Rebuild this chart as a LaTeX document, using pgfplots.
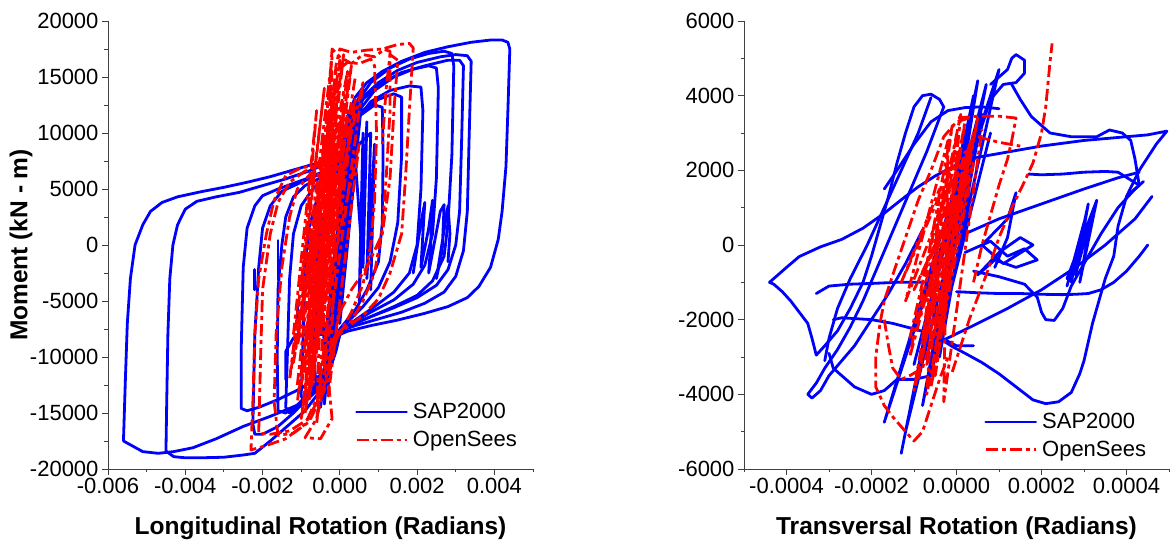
\documentclass[border=0pt]{standalone}
\usepackage{fontspec}
\setmainfont{Liberation Sans}
\usepackage{pgfplots}
\pgfplotsset{compat=1.18}
\definecolor{sapblue}{RGB}{0,0,255}
\definecolor{osred}{RGB}{255,0,0}
\tikzset{
  sap/.style={color=sapblue, line width=2.8pt, line join=round, line cap=round},
  os/.style={color=osred, line width=2.8pt, line join=round, dash pattern=on 12pt off 4pt on 4pt off 4pt},
}
\pgfplotsset{
  myaxis/.style={
    scale only axis, width=425pt, height=448pt,
    axis x line*=bottom, axis y line*=left,
    axis line style={-, line width=0.9pt, black!75},
    tick style={line width=0.9pt, black!75},
    tick align=outside, major tick length=6pt, minor tick length=3.5pt,
    minor y tick num=1,
    ticklabel style={font=\fontsize{22}{26}\selectfont},
    /pgf/number format/assume math mode=true,
    scaled ticks=false,
    label style={font=\fontsize{24.5}{29}\selectfont\bfseries},
    xlabel style={at={(axis description cs:0.5,-0.1317)},anchor=center},
    legend style={draw=none, fill=none, font=\fontsize{22}{26}\selectfont,
      anchor=west, row sep=7pt, /tikz/every odd column/.style={column sep=3pt}},
    legend cell align=left,
    legend image code/.code={\draw[##1, line width=2.8pt] (0pt,0pt) -- (50pt,0pt);},
  },
}
\begin{document}
\begin{tikzpicture}[x=1pt,y=1pt]
\useasboundingbox (0,0) rectangle (1173,548);
%==================== LEFT ====================
\begin{axis}[myaxis, at={(108pt,79pt)}, anchor=south west,
  xmin=-0.006, xmax=0.005, ymin=-20000, ymax=20000,
  xtick={-0.006,-0.004,-0.002,0,0.002,0.004},
  minor xtick={-0.005,-0.003,-0.001,0.001,0.003,0.005},
  ytick={-20000,-15000,-10000,-5000,0,5000,10000,15000,20000},
  xticklabel style={/pgf/number format/.cd, fixed, fixed zerofill, precision=3},
  yticklabel style={/pgf/number format/.cd, fixed, 1000 sep={}},
  xlabel={Longitudinal Rotation (Radians)},
  ylabel={Moment (kN - m)},
  ylabel style={at={(axis description cs:-0.2047,0.5)},anchor=center},
  legend style={at={(axis description cs:0.574,0.096)}},
]
% ---- SAP2000 ----
\addplot[sap] coordinates {
(-0.0056,-17500)(-0.00555,-12000)(-0.0055,-7000)(-0.00542,-3000)(-0.0053,0)(-0.0051,1800)(-0.0049,3000)(-0.0046,3800)(-0.0042,4300)(-0.0036,4750)(-0.003,5150)(-0.0024,5600)(-0.0018,6100)(-0.0012,6700)(-0.0006,7300)(-0.0002,7800)(0.0,8000)(0.0001,9500)(0.0002,11500)(0.0004,13200)(0.0007,14500)(0.0011,15500)(0.0016,16400)(0.0022,17200)(0.0028,17700)(0.0034,18100)(0.0039,18300)(0.0042,18300)(0.00435,18100)(0.0044,17500)(0.00435,12000)(0.0043,7000)(0.0042,3000)(0.0041,500)(0.0039,-2000)(0.0036,-3700)(0.0033,-4700)(0.0028,-5500)(0.0022,-6100)(0.0015,-6700)(0.0008,-7200)(0.0002,-7700)(0.0,-8000)(-0.0001,-9500)(-0.0003,-11500)(-0.0006,-13000)(-0.0011,-14300)(-0.0018,-15300)(-0.0025,-16200)(-0.0032,-17300)(-0.0038,-18100)(-0.0043,-18450)(-0.0047,-18600)(-0.0051,-18450)(-0.0056,-17500)
};
\addlegendentry{SAP2000}
\addplot[sap, forget plot] coordinates {
(0,-8000)(-0.0002,-10500)(-0.0005,-13000)(-0.0009,-14800)(-0.0013,-16000)(-0.0018,-17500)(-0.0022,-18600)(-0.0025,-18750)(-0.003,-18950)(-0.0036,-19000)(-0.004,-19000)(-0.0043,-18900)(-0.0045,-18400)(-0.00448,-14000)(-0.00445,-8000)(-0.0044,-3000)(-0.00432,0)(-0.0042,1800)(-0.004,3200)(-0.0037,3900)(-0.0032,4300)(-0.0026,4700)(-0.002,5300)(-0.0014,5900)(-0.0008,6600)(-0.0003,7300)(0.0,7700)(0.0001,9000)(0.0003,11500)(0.0006,13200)(0.001,14500)(0.0015,15600)(0.002,16300)(0.0026,16800)(0.003,17000)(0.0033,16900)(0.0034,16400)(0.00335,10000)(0.0033,3000)(0.0032,-500)(0.003,-2800)(0.0027,-4200)(0.0022,-5200)(0.0016,-6000)(0.001,-6600)(0.0004,-7200)(0,-7700)
};
\addplot[sap, forget plot] coordinates {
(0,-7800)(-0.0002,-9800)(-0.0005,-11600)(-0.001,-12800)(-0.0016,-13800)(-0.0021,-14500)(-0.0024,-14800)(-0.00255,-14600)(-0.00255,-9000)(-0.0025,-2000)(-0.0024,1500)(-0.0022,3500)(-0.002,4400)(-0.0016,5000)(-0.0012,5500)(-0.0008,6000)(-0.0004,6600)(-0.0001,7200)(0.0001,8500)(0.0003,11000)(0.0006,13000)(0.001,14300)(0.0016,15400)(0.0022,16000)(0.0028,16500)(0.0031,16500)(0.0032,16000)(0.00315,9000)(0.0031,3000)(0.003,0)(0.0028,-2200)(0.0025,-3600)(0.002,-4700)(0.0014,-5600)(0.0008,-6400)(0.0003,-7100)(0,-7800)
};
\addplot[sap, forget plot] coordinates {
(0,-8000)(-0.0003,-11000)(-0.0007,-13200)(-0.0012,-15000)(-0.0016,-16200)(-0.002,-16900)(-0.0022,-16900)(-0.00225,-16000)(-0.0022,-8000)(-0.0021,-2000)(-0.002,1500)(-0.0018,3500)(-0.0015,4800)(-0.001,5600)(-0.0006,6200)(-0.0002,7000)(0,7500)(0.0002,10000)(0.0004,12500)(0.0008,14500)(0.0013,15800)(0.0018,16600)(0.0023,17100)(0.0027,17300)(0.0029,17100)(0.00295,16000)(0.0029,8000)(0.0028,2000)(0.0027,-1000)(0.0024,-3200)(0.002,-4500)(0.0014,-5500)(0.0008,-6400)(0.0002,-7300)(0,-8000)
};
\addplot[sap, forget plot] coordinates {
(0,-7800)(-0.0003,-10500)(-0.0007,-12800)(-0.0011,-14300)(-0.0014,-15000)(-0.0016,-14800)(-0.00162,-10000)(-0.0016,-4000)(-0.0015,0)(-0.0014,2500)(-0.0012,4300)(-0.0009,5300)(-0.0005,6000)(-0.0002,6700)(0,7300)(0.0002,9500)(0.0005,12000)(0.0009,13800)(0.0014,15000)(0.0019,15700)(0.0023,16000)(0.0025,15800)(0.00255,14000)(0.0025,6000)(0.0024,1000)(0.0022,-1800)(0.0019,-3500)(0.0014,-4900)(0.0008,-6000)(0.0003,-7000)(0,-7800)
};
\addplot[sap, forget plot] coordinates {
(0,-7800)(-0.0003,-10500)(-0.0006,-12500)(-0.001,-14300)(-0.0013,-15000)(-0.0014,-14500)(-0.00135,-9000)(-0.0013,-3000)(-0.0012,1000)(-0.001,3500)(-0.0007,5000)(-0.0004,6000)(-0.0001,6800)(0.0001,8500)(0.0004,11000)(0.0008,12800)(0.0013,13800)(0.0018,14200)(0.0021,14100)(0.00215,12000)(0.0021,5000)(0.002,0)(0.0018,-2500)(0.0014,-4200)(0.0009,-5500)(0.0004,-6700)(0,-7800)
};
\addplot[sap, forget plot] coordinates {
(0,-7700)(-0.0003,-10800)(-0.0006,-13000)(-0.0009,-14000)(-0.001,-13500)(-0.00095,-8000)(-0.0009,-2000)(-0.0008,1500)(-0.0006,4000)(-0.0003,5800)(0,7000)(0.0002,9500)(0.0005,11800)(0.001,13000)(0.0014,13500)(0.0016,13200)(0.0016,8000)(0.0015,2000)(0.0013,-1500)(0.001,-3800)(0.0006,-5500)(0.0002,-6900)(0,-7700)
};
\addplot[sap, forget plot] coordinates {
(0,-7500)(-0.0003,-11000)(-0.0006,-13000)(-0.00065,-11000)(-0.0006,-4000)(-0.0005,1000)(-0.0003,4500)(0,6800)(0.0002,9000)(0.0005,11500)(0.0009,12500)(0.0011,12300)(0.00112,8000)(0.0011,2000)(0.001,-1500)(0.0007,-4000)(0.0004,-5800)(0,-7500)
};
\addplot[sap, forget plot] coordinates {
(-0.0014,-12000)(-0.0014,-9500)(-0.0012,-8300)(-0.0009,-8000)(-0.0005,-8000)(0,-7900)
};
\addplot[sap, forget plot] coordinates {
(0.0019,-2500)(0.0021,2000)(0.0022,3800)(0.00215,1000)(0.0021,-2000)(0.0023,1500)(0.0024,4000)(0.00235,0)(0.0023,-2500)(0.0026,3000)(0.0027,3600)(0.00265,-500)(0.0025,-3000)(0.0028,3500)(0.00285,1000)(0.0028,-1500)
};
\addplot[sap, forget plot] coordinates {(-0.0022,-2200)(-0.0022,-4000)};
\addplot[sap, forget plot] coordinates {(-0.0011,-5200)(-0.0011,-7000)};
\addplot[sap, forget plot] coordinates {(-0.0016,400)(-0.0016,-3100)};
\addplot[sap, forget plot] coordinates {
(-0.0004,-13800)(0.0001,6000)(-0.0002,-9000)(0.0004,12000)(-0.0001,-5000)(0.0005,13500)(-0.0003,-12500)(0.0002,9000)(0.0,-7000)(0.0006,14000)(-0.0002,-10500)(0.0003,10500)(-0.0004,-14200)(0.0001,7000)(-0.0001,-6000)(0.0004,13000)(-0.0003,-11500)(0.0005,12000)(-0.0005,-14500)(0.0002,8000)(0.0008,10000)(0.0007,-3000)(0.0009,9000)(0.0008,-4000)
};
\addplot[sap, forget plot] coordinates {
(-0.0007,-12000)(-0.0006,2000)(-0.0004,-9000)(0.0003,12500)(0.0006,-2000)(0.0007,11000)(0.0005,-5000)(0.0006,10000)
};
% ---- OpenSees ----
\addplot[os] coordinates {
(-0.0002,-8500)(-0.0005,-13000)(-0.0009,-16000)(-0.0014,-17300)(-0.0019,-17900)(-0.0023,-18300)(-0.00225,-14000)(-0.0022,-8000)(-0.0021,-3000)(-0.0019,1000)(-0.0017,4000)(-0.0014,6200)(-0.001,6900)(-0.0006,7100)(-0.0003,7800)(-0.0002,11000)(-0.00025,15000)(-0.0002,17500)(0.0,16800)(0.0003,16200)(0.0006,17000)(0.0009,16800)(0.0012,17600)(0.0015,17900)(0.0018,18000)(0.0019,17600)(0.0018,12000)(0.0017,6000)(0.0016,1000)(0.0013,-2500)(0.001,-4800)(0.0006,-6300)(0.0002,-7300)(-0.0002,-8500)
};
\addlegendentry{OpenSees}
\addplot[os, forget plot] coordinates {
(-0.0001,-8000)(-0.0004,-12500)(-0.0008,-15500)(-0.0013,-16600)(-0.0018,-16900)(-0.0021,-16800)(-0.00205,-10000)(-0.002,-4000)(-0.0018,1000)(-0.0016,3800)(-0.0013,5600)(-0.0009,6600)(-0.0005,7000)(-0.0003,8000)(-0.0002,12000)(-0.0001,16000)(0.0,17500)(0.0003,17200)(0.0007,17400)(0.0011,17500)(0.0013,17300)(0.0013,12000)(0.0012,6000)(0.0011,1500)(0.0009,-2500)(0.0006,-5000)(0.0003,-6800)(-0.0001,-8000)
};
\addplot[os, forget plot] coordinates {
(-0.0001,-8500)(-0.0004,-13000)(-0.0008,-15800)(-0.0012,-16800)(-0.0016,-17000)(-0.0017,-14000)(-0.00165,-8000)(-0.0015,-2000)(-0.0013,2500)(-0.0011,5000)(-0.0008,6200)(-0.0005,7000)(-0.0003,9000)(-0.0002,13000)(-0.0001,15500)(0.0002,16300)(0.0005,16200)(0.0008,16600)(0.0009,16000)(0.00095,10000)(0.0009,4000)(0.0008,0)(0.0006,-3500)(0.0003,-6000)(-0.0001,-8500)
};
\addplot[os, forget plot] coordinates {
(0,-6000)(-0.0003,-11000)(-0.0006,-15500)(-0.0009,-17200)(-0.0005,-17300)(-0.0002,-15500)(-0.0003,-12000)
};
\addplot[os, forget plot] coordinates {
(0.0,-6000)(0.0003,-4000)(0.0007,-2000)(0.0011,1000)(0.0013,6000)(0.0014,12000)(0.0015,16500)(0.0013,17000)(0.0012,14000)(0.0011,9000)
};
\addplot[os, forget plot] coordinates {
(-0.0011,-12500)(-0.0004,9500)(-0.0009,-9000)(-0.0001,14500)(-0.0007,-12500)(0.0002,15500)(-0.001,-6000)(-0.0003,12000)(-0.0006,-14500)(0.0004,13000)(-0.0008,-3000)(-0.0002,10000)(-0.0012,-10500)(0.0,16500)(-0.0005,-8000)(0.0003,11000)(-0.0009,-15000)(-0.0001,6000)(-0.0004,-11000)(0.0006,14500)(-0.0007,-5000)(0.0001,12500)(-0.0003,-13500)(0.0005,9000)(-0.0008,-11500)(-0.0002,15500)(-0.0005,-4000)(0.0002,8000)(-0.001,-12500)(0.0003,16000)(-0.0006,-9500)(0.0,11000)(-0.0011,-14000)(-0.0003,7000)(-0.0007,-10000)(0.0001,13500)
};
\addplot[os, forget plot] coordinates {
(-0.0012,-8000)(-0.0006,12000)(-0.001,-4000)(-0.0004,14000)(-0.0013,-12000)(-0.0005,6000)(-0.0009,-13000)(0.0001,17000)(-0.0007,-2000)(-0.0002,16800)(-0.0011,-9000)(-0.0003,4000)(-0.0008,-14000)(0.0002,12000)(-0.0006,-16000)(-0.0001,9000)(-0.0010,-15500)(0.0004,15000)
};
\end{axis}
%==================== RIGHT ====================
\begin{axis}[myaxis, at={(744pt,79pt)}, anchor=south west,
  xmin=-0.0005, xmax=0.0005, ymin=-6000, ymax=6000,
  xtick={-0.0004,-0.0002,0,0.0002,0.0004},
  minor xtick={-0.0005,-0.0003,-0.0001,0.0001,0.0003,0.0005},
  ytick={-6000,-4000,-2000,0,2000,4000,6000},
  xticklabel style={/pgf/number format/.cd, fixed, fixed zerofill, precision=4},
  yticklabel style={/pgf/number format/.cd, fixed, 1000 sep={}},
  xlabel={Transversal Rotation (Radians)},
  legend style={at={(axis description cs:0.558,0.074)}},
]
\addplot[sap] coordinates {
(-0.00044,-1000)(-0.00043,-900)(-0.0004,-600)(-0.00037,-310)(-0.00032,-50)(-0.00027,150)(-0.00022,450)(-0.00017,850)(-0.00012,1300)(-0.00009,1560)(-0.00005,1850)(0.0,2150)(0.00005,2350)(0.0001,2450)(0.00015,2550)(0.0002,2650)(0.0003,2800)(0.0004,2900)(0.00045,2950)(0.000495,3050)(0.00047,2700)(0.00043,2000)(0.0004,1300)(0.00038,500)(0.00037,-300)(0.00035,-900)(0.00032,-2100)(0.0003,-3100)(0.00029,-3450)(0.00027,-3950)(0.00024,-4200)(0.00021,-4250)(0.00018,-4150)(0.00014,-3800)(0.0001,-3450)(0.00006,-3150)(0.00002,-2900)(-0.00001,-2720)(-0.00004,-2500)
};
\addlegendentry{SAP2000}
\addplot[sap, forget plot] coordinates {
(-0.00044,-1000)(-0.00043,-1050)(-0.00041,-1250)(-0.00039,-1500)(-0.00037,-1800)(-0.00035,-2100)(-0.00034,-2500)(-0.00033,-2950)
};
\addplot[sap, forget plot] coordinates {
(-0.00033,-2950)(-0.00031,-2700)(-0.00028,-2300)(-0.00025,-1700)(-0.00022,-1000)(-0.0002,-300)(-0.00018,500)(-0.00016,1300)(-0.00014,2200)(-0.00012,3000)(-0.0001,3700)(-0.00008,4000)(-0.00006,4040)(-0.00004,3900)(-0.00003,3700)(-0.00005,3100)(-0.00007,2500)(-0.0001,1700)(-0.00013,900)(-0.00016,100)(-0.00019,-700)(-0.00022,-1500)(-0.00025,-2200)(-0.00028,-2800)(-0.00031,-3300)(-0.00033,-3700)(-0.00035,-4000)(-0.00034,-4100)(-0.00032,-3900)(-0.0003,-3500)(-0.00027,-3100)(-0.00024,-2700)(-0.0002,-2000)(-0.00016,-1300)(-0.00012,-500)(-0.00008,400)
};
\addplot[sap, forget plot] coordinates {
(-0.00006,3950)(-0.00009,3000)(-0.00013,2000)(-0.00017,1000)(-0.00021,0)(-0.00025,-900)(-0.00028,-1700)(-0.0003,-2500)(-0.00031,-3100)
};
\addplot[sap, forget plot] coordinates {
(-0.00033,-1300)(-0.0003,-1100)(-0.00025,-1050)(-0.0002,-1030)(-0.00014,-1000)(-0.00008,-1000)
};
\addplot[sap, forget plot] coordinates {
(-0.00029,-2000)(-0.00027,-1950)(-0.0002,-2000)(-0.00015,-2100)(-0.0001,-2250)(-0.00005,-2400)(0.0,-2700)(0.00004,-2700)
};
\addplot[sap, forget plot] coordinates {
(-0.0003,-2900)(-0.00029,-3300)(-0.00027,-3500)(-0.00024,-3800)(-0.0002,-4000)(-0.00017,-3900)(-0.00014,-3600)(-0.0001,-3600)(-0.00006,-3500)
};
\addplot[sap, forget plot] coordinates {
(0.0,-1250)(0.00005,-1280)(0.0001,-1300)(0.00015,-1300)(0.0002,-1320)(0.00025,-1330)(0.00028,-1320)(0.00031,-1300)(0.00034,-1200)(0.00037,-1000)(0.0004,-700)(0.00043,-300)(0.00045,0)
};
\addplot[sap, forget plot] coordinates {
(0.00004,-700)(0.0001,-850)(0.00016,-1050)(0.00019,-1400)(0.0002,-1800)(0.00021,-2000)(0.00023,-2020)(0.00025,-1700)(0.00027,-1100)(0.0003,-500)(0.00034,300)(0.00038,1000)(0.00042,1500)(0.00044,1700)
};
\addplot[sap, forget plot] coordinates {
(0.00017,1900)(0.0002,1880)(0.00025,1900)(0.0003,1950)(0.00035,1970)(0.00038,1950)(0.00043,1600)
};
\addplot[sap, forget plot] coordinates {
(0.00013,4300)(0.00015,3900)(0.000176,3440)(0.00022,3000)(0.00027,2900)(0.00033,2900)(0.00036,3080)(0.00039,3000)(0.00041,2800)(0.00042,2300)(0.00043,1600)(0.0004,1300)
};
\addplot[sap, forget plot] coordinates {
(0.00008,4300)(0.0001,4500)(0.00012,4700)(0.00013,5000)(0.00014,5100)(0.00016,4950)(0.00016,4600)(0.00014,4350)(0.00011,4300)(0.00008,3900)(0.00006,3200)(0.00003,2000)(0.0,500)(-0.00003,-1000)
};
\addplot[sap, forget plot] coordinates {
(-0.00017,1500)(-0.00014,2000)(-0.0001,2700)(-0.00006,3300)(-0.00002,3600)(0.00002,3680)(0.00006,3700)(0.0001,3650)
};
\addplot[sap, forget plot] coordinates {
(-0.00013,-5580)(0.00002,3000)(-0.0001,-4000)(0.00005,4400)(-0.00006,-3500)(0.0001,4700)(-0.00017,-4750)(0.00001,2000)(-0.00005,-2500)(0.00007,4300)(-0.0001,-3200)(0.00003,2500)(-0.00008,-4300)(0.00006,3500)(-0.00004,-3000)(0.00004,4000)(-0.00012,-5000)(0.00002,1500)(-0.00007,-3800)(0.00008,3000)
};
\addplot[sap, forget plot] coordinates {
(0.00026,-900)(0.00033,1200)(0.00029,-1000)(0.00032,900)(0.00028,-800)(0.00031,1100)(0.00027,-1000)(0.0003,600)(0.00026,-1100)
};
\addplot[sap, forget plot] coordinates {
(0.00002,-200)(0.00008,100)(0.00012,-300)(0.00016,-100)(0.00019,-400)(0.00014,-600)(0.00009,-400)(0.00005,-800)(0.0001,-200)(0.00015,200)(0.00018,0)(0.00011,-500)(0.00006,0)(0.00012,700)(0.00014,1400)(0.00012,200)(0.00009,-600)
};
\addplot[sap, forget plot] coordinates {
(-0.00004,-2600)(0.00005,-2100)(0.00012,-1700)(0.0002,-1200)(0.00028,-600)(0.00035,0)(0.00042,700)(0.00046,1300)
};
\addplot[sap, forget plot] coordinates {
(0.00002,300)(0.0001,700)(0.0002,1100)(0.0003,1500)(0.00038,1800)(0.00043,1950)
};
% ---- OpenSees ----
\addplot[os] coordinates {
(-0.00001,-3400)(0.00003,-2000)(0.00007,-800)(0.0001,200)(0.00013,1000)(0.00016,1700)(0.00018,2200)(0.0002,3000)(0.00021,3700)(0.000215,4300)(0.00022,4900)(0.000225,5400)
};
\addlegendentry{OpenSees}
\addplot[os, forget plot] coordinates {
(0.00003,3400)(0.0,3300)(-0.00003,2900)(-0.00006,2000)(-0.00009,1200)(-0.00012,200)(-0.00015,-800)(-0.00017,-1500)(-0.00018,-2100)(-0.00019,-3000)(-0.00019,-3800)(-0.00017,-4300)(-0.00015,-4600)(-0.00012,-5000)(-0.0001,-5250)(-0.00008,-5000)(-0.00006,-4300)(-0.00004,-3600)(-0.00002,-3000)
};
\addplot[os, forget plot] coordinates {
(-0.00017,-2000)(-0.00016,-2700)(-0.00015,-3300)(-0.00013,-3600)(-0.00011,-3500)(-0.00008,-3300)(-0.00006,-2600)
};
\addplot[os, forget plot] coordinates {
(0.00004,-1000)(0.00006,0)(0.00008,800)(0.0001,1600)(0.00012,2300)(0.00013,2800)(0.00014,3400)(0.0001,3450)(0.00005,3450)(0.0,3400)
};
\addplot[os, forget plot] coordinates {
(-0.00009,-3600)(0.00002,3300)(-0.00006,-2800)(0.00004,3000)(-0.0001,-3900)(0.0,2900)(-0.00007,-3200)(0.00005,3400)(-0.00004,-2200)(0.00002,2500)(-0.00011,-3000)(-0.00001,3200)(-0.00008,-2500)(0.00003,2700)(-0.00005,-3500)(0.00001,3500)(-0.00009,-2000)(0.00004,2200)(-0.00006,-3800)(0.0,2000)(-0.00012,-1500)(-0.00002,2800)(-0.00003,-4200)(0.00006,3100)
};
\addplot[os, forget plot] coordinates {
(-0.00011,-2500)(-0.00002,2000)(-0.00008,-3000)(0.00001,2600)(-0.00013,-1000)(-0.00004,1500)(-0.00007,-4000)(0.00003,1800)(-0.0001,-1200)(-0.00001,1000)
};
\addplot[os, forget plot] coordinates {
(0.00005,2900)(0.0001,2750)(0.00015,2650)
};
\end{axis}
\end{tikzpicture}
\end{document}
